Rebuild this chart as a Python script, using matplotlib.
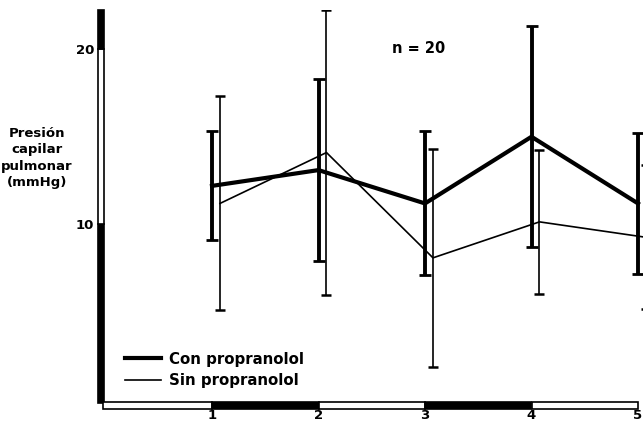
import matplotlib
matplotlib.use("Agg")
import matplotlib.pyplot as plt
from matplotlib.patches import Rectangle
from matplotlib.lines import Line2D
from matplotlib.transforms import blended_transform_factory
import numpy as np

# Data
sessions = [1, 2, 3, 4, 5]
con_mean = [12.2, 13.1, 11.2, 15.0, 11.2]
con_err = [3.1, 5.2, 4.1, 6.3, 4.0]
sin_mean = [11.2, 14.1, 8.1, 10.15, 9.27]
sin_err = [6.1, 8.1, 6.2, 4.1, 4.1]
x_ticks = [1, 2, 3, 4, 5]
y_ticks = [10, 20]
series_labels = ["Con propranolol", "Sin propranolol"]

FONT = "DejaVu Sans"
W, H, DPI = 643, 424, 100
fig = plt.figure(figsize=(W / DPI, H / DPI), dpi=DPI)

# axes placement in pixels
x0_px, px_per_x = 105.5, 106.5
y0_px, px_per_y = 400.0, 17.55
ax_w = W - x0_px
ymax = 22.2
ax_h = ymax * px_per_y
ax = fig.add_axes([x0_px / W, (H - y0_px) / H, ax_w / W, ax_h / H])
ax.set_xlim(0, ax_w / px_per_x)
ax.set_ylim(0, ymax)

x = np.array(sessions, dtype=float)
dodge = 0.075

ax.errorbar(x, con_mean, yerr=con_err, color="black", lw=3.0, elinewidth=2.8,
            capsize=4.3, capthick=2.0, zorder=3)
ax.errorbar(x + dodge, sin_mean, yerr=sin_err, color="black", lw=1.2,
            elinewidth=1.2, capsize=3.6, capthick=1.8, zorder=3)

for s in ax.spines.values():
    s.set_visible(False)

ax.set_xticks(x_ticks)
ax.set_xticklabels([str(t) for t in x_ticks])
ax.set_yticks(y_ticks)
ax.set_yticklabels([str(t) for t in y_ticks])
ax.tick_params(length=0, labelsize=9.5)
ax.tick_params(axis="x", pad=6.5)
ax.tick_params(axis="y", pad=8)
for lab in ax.get_xticklabels() + ax.get_yticklabels():
    lab.set_fontweight("bold")
    lab.set_family(FONT)

# banded axis bars
px = fig.dpi_scale_trans
ytr = blended_transform_factory(px, ax.transData)
xtr = blended_transform_factory(ax.transData, px)
bar_x0, bar_x1 = 98 / DPI, 104 / DPI
y_bands = [(-0.17, 10, "black"), (10, 20, "white"), (20, ymax, "black")]
for lo, hi, c in y_bands:
    ax.add_patch(Rectangle((bar_x0, lo), bar_x1 - bar_x0, hi - lo, transform=ytr,
                           facecolor=c, edgecolor="black", lw=1.2, clip_on=False))
xb_lo, xb_hi = (H - 409) / DPI, (H - 402) / DPI
x_bands = [(-0.02, 1, "white"), (1, 2, "black"), (2, 3, "white"),
           (3, 4, "black"), (4, 5, "white")]
for lo, hi, c in x_bands:
    ax.add_patch(Rectangle((lo, xb_lo), hi - lo, xb_hi - xb_lo, transform=xtr,
                           facecolor=c, edgecolor="black", lw=1.2, clip_on=False))

# y-axis title
fig.text(37 / W, 1 - 158 / H, "Presión\ncapilar\npulmonar\n(mmHg)", ha="center",
         va="center", fontsize=9.5, fontweight="bold", family=FONT,
         linespacing=1.35)

ax.text(2.94, 20.05, "n = 20", ha="center", va="center", fontsize=10.5,
        fontweight="bold", family=FONT)

handles = [Line2D([], [], color="black", lw=3.0), Line2D([], [], color="black", lw=1.2)]
leg = ax.legend(handles, series_labels, loc="lower left",
                bbox_to_anchor=(0.036, 0.03), frameon=False, borderpad=0,
                borderaxespad=0, handlelength=2.4, handletextpad=0.55,
                labelspacing=0.45, prop={"family": FONT, "weight": "bold", "size": 10.8})

fig.savefig("out.png", dpi=DPI)
